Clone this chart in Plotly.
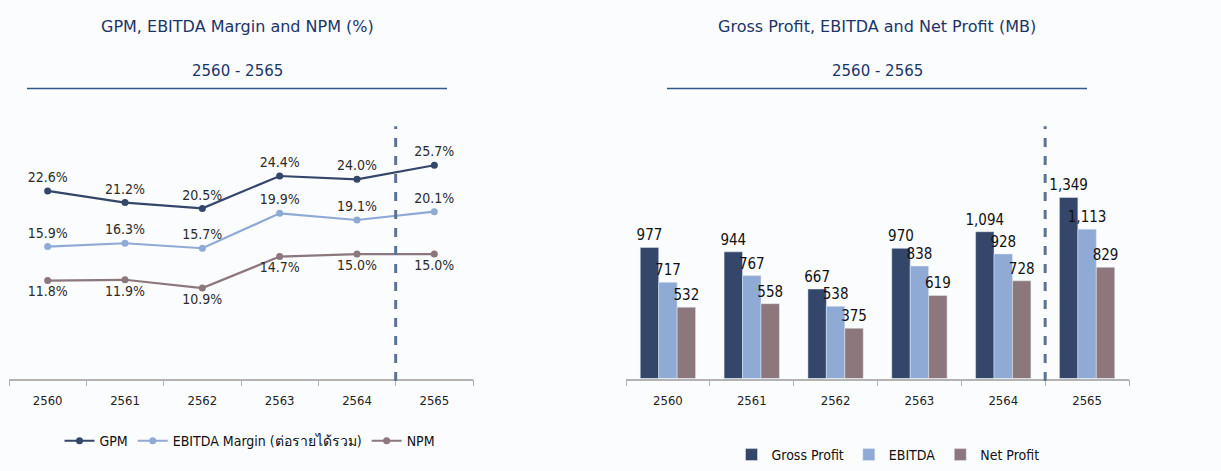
import plotly.graph_objects as go

# data
years = ["2560", "2561", "2562", "2563", "2564", "2565"]
gpm = [22.6, 21.2, 20.5, 24.4, 24.0, 25.7]
ebitda_margin = [15.9, 16.3, 15.7, 19.9, 19.1, 20.1]
npm = [11.8, 11.9, 10.9, 14.7, 15.0, 15.0]

gross_profit = [977, 944, 667, 970, 1094, 1349]
ebitda = [717, 767, 538, 838, 928, 1113]
net_profit = [532, 558, 375, 619, 728, 829]

W, H = 1221, 471
FONT = "DejaVu Sans"
NARROW = "Liberation Sans Narrow, DejaVu Sans Condensed, Arial Narrow, sans-serif"
COND = "DejaVu Sans Condensed, DejaVu Sans"
NAVY = "#1c3567"
C_DARK = "#34476a"
C_LIGHT = "#8eaad5"
C_MAUVE = "#8c777c"
AXIS = "#b3b3b3"


def px_x(x):
    return x / W


def px_y(y):
    return 1 - y / H


fig = go.Figure()

# left: margins
for name, vals, color, pos in [
    ("GPM", gpm, C_DARK, "top center"),
    ("EBITDA Margin (ต่อรายได้รวม)", ebitda_margin, C_LIGHT, "top center"),
    ("NPM", npm, C_MAUVE, "bottom center"),
]:
    fig.add_trace(go.Scatter(
        x=years, y=vals, name=name, mode="lines+markers+text",
        text=[f"{v:.1f}%" for v in vals], textposition=pos,
        textfont=dict(family=NARROW, size=14, color="#2b2b2b"),
        line=dict(color=color, width=2.2), marker=dict(size=7, color=color),
        xaxis="x", yaxis="y", legend="legend",
    ))

# right: profits
for name, vals, color in [
    ("Gross Profit", gross_profit, C_DARK),
    ("EBITDA", ebitda, C_LIGHT),
    ("Net Profit", net_profit, C_MAUVE),
]:
    fig.add_trace(go.Bar(
        x=years, y=vals, name=name, marker_color=color,
        text=[f"{v:,}" for v in vals], textposition="outside", cliponaxis=False,
        constraintext="none",
        textfont=dict(family=NARROW, size=15, color="#111111"),
        xaxis="x2", yaxis="y2", legend="legend2",
    ))

ydom = [px_y(381), px_y(127)]
xaxis_common = dict(
    type="category", showline=True, linecolor=AXIS, linewidth=1.5,
    ticks="outside", tickson="boundaries", ticklen=6, tickcolor=AXIS,
    tickfont=dict(family=COND, size=13, color="#222222"), showgrid=False,
    ticklabelstandoff=9, range=[-0.5, 5.5], fixedrange=True,
)
fig.update_layout(
    width=W, height=H,
    margin=dict(l=0, r=0, t=0, b=0),
    paper_bgcolor="#fbfcfe", plot_bgcolor="#fbfcfe",
    barmode="group", bargap=0.34, bargroupgap=0,
    xaxis=dict(domain=[px_x(9), px_x(473)], anchor="y", **xaxis_common),
    yaxis=dict(domain=ydom, range=[0, 30.4], visible=False),
    xaxis2=dict(domain=[px_x(626), px_x(1129)], anchor="y2", **xaxis_common),
    yaxis2=dict(domain=ydom, range=[0, 1880], visible=False),
    legend=dict(orientation="h", x=px_x(250), xanchor="center", y=px_y(444),
                yanchor="middle", itemwidth=30,
                font=dict(family=COND, size=14, color="#111111")),
    legend2=dict(orientation="h", x=px_x(888), xanchor="center", y=px_y(458),
                 yanchor="middle", itemwidth=30,
                 font=dict(family=COND, size=14, color="#111111")),
)

# titles and underline rules
for cx, title, x0, x1 in [
    (237, "GPM, EBITDA Margin and NPM (%)", 27, 447),
    (877, "Gross Profit, EBITDA and Net Profit (MB)", 667, 1087),
]:
    fig.add_annotation(x=px_x(cx), y=px_y(27), xref="paper", yref="paper",
                       xanchor="center", yanchor="middle",
                       text=title, showarrow=False,
                       font=dict(family=FONT, size=16, color=NAVY))
    fig.add_annotation(x=px_x(cx), y=px_y(71), xref="paper", yref="paper",
                       xanchor="center", yanchor="middle",
                       text="2560 - 2565", showarrow=False,
                       font=dict(family=FONT, size=15, color=NAVY))
    fig.add_shape(type="line", xref="paper", yref="paper",
                  x0=px_x(x0), x1=px_x(x1), y0=px_y(89), y1=px_y(89),
                  line=dict(color="#2e5a8e", width=1.5))

# dashed separators between 2564 and 2565
for xr, yr in [("x", "y"), ("x2", "y2")]:
    fig.add_shape(type="line", xref=xr, yref=f"{yr} domain",
                  x0=4.5, x1=4.5, y0=-0.01, y1=1,
                  line=dict(color="#5b7394", width=3, dash="dash"))

# the page's default body margin would shift the figure by 8px
fig.write_html("out.html", config={"displayModeBar": False},
               post_script="document.body.style.margin='0';")
